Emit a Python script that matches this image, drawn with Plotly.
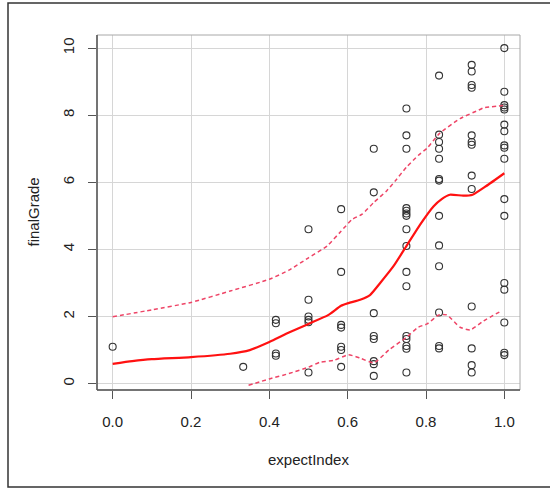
import plotly.graph_objects as go

# ---- data ----
col_x = [0.0, 1/3, 5/12, 0.5, 7/12, 2/3, 0.75, 5/6, 11/12, 1.0]
col_y = [
    [1.1],
    [0.5],
    [1.9, 1.8, 0.9, 0.83],
    [4.6, 2.5, 2.0, 1.9, 1.83, 0.33],
    [5.2, 3.33, 1.75, 1.67, 1.1, 1.0, 0.5],
    [7.0, 5.7, 2.1, 1.42, 1.33, 0.67, 0.58, 0.23],
    [8.2, 7.4, 7.0, 5.23, 5.15, 5.07, 5.0, 4.6, 4.1, 3.33, 2.9, 1.42, 1.33, 1.12, 1.04, 0.33],
    [9.18, 7.42, 7.2, 7.0, 6.7, 6.1, 6.05, 5.0, 4.12, 3.5, 2.12, 1.12, 1.05],
    [9.5, 9.3, 8.9, 8.82, 7.4, 7.2, 7.12, 6.2, 5.8, 2.3, 1.05, 0.55, 0.33],
    [10.0, 8.7, 8.3, 8.23, 8.17, 7.72, 7.52, 7.1, 7.03, 6.7, 5.5, 5.0, 3.0, 2.8, 1.82, 0.92, 0.85],
]

fit_x = [0.0, 0.05, 0.1, 0.2, 0.3, 0.35, 0.4, 0.45, 0.5, 0.55, 0.583, 0.602, 0.632, 0.657, 0.683,
         0.717, 0.75, 0.785, 0.819, 0.84, 0.861, 0.895, 0.919, 0.954, 1.0]
fit_y = [0.59, 0.67, 0.73, 0.79, 0.89, 1.0, 1.24, 1.52, 1.78, 2.04, 2.32, 2.4, 2.5, 2.64, 3.0,
         3.5, 4.1, 4.74, 5.28, 5.5, 5.63, 5.6, 5.63, 5.89, 6.27]

up_x = [0.0, 0.1, 0.2, 0.3, 0.4, 0.45, 0.5, 0.547, 0.583, 0.611, 0.637, 0.667, 0.7, 0.722,
        0.75, 0.78, 0.803, 0.834, 0.887, 0.938, 0.947, 1.0]
up_y = [1.99, 2.2, 2.42, 2.76, 3.11, 3.38, 3.75, 4.1, 4.54, 4.89, 5.05, 5.4, 5.75, 6.05,
        6.45, 6.8, 7.02, 7.45, 7.9, 8.17, 8.22, 8.29]

lo_x = [0.347, 0.4, 0.45, 0.5, 0.53, 0.564, 0.602, 0.632, 0.667, 0.705, 0.75, 0.78, 0.803,
        0.833, 0.853, 0.887, 0.913, 0.947, 0.993]
lo_y = [-0.05, 0.14, 0.3, 0.49, 0.64, 0.69, 0.86, 0.76, 0.62, 1.0, 1.38, 1.68, 1.78,
        2.05, 2.05, 1.68, 1.6, 1.87, 2.17]

x_ticks = [0.0, 0.2, 0.4, 0.6, 0.8, 1.0]
y_ticks = [0, 2, 4, 6, 8, 10]

px_, py_ = [], []
for cx, ys in zip(col_x, col_y):
    for v in ys:
        px_.append(cx)
        py_.append(v)

FONT = "Liberation Sans, Arial, Helvetica, sans-serif"
TXT = "#222222"

fig = go.Figure()
fig.add_trace(go.Scatter(x=px_, y=py_, mode="markers",
                         marker=dict(symbol="circle-open", size=7, color="#333333",
                                     line=dict(width=1.1, color="#333333")),
                         showlegend=False, hoverinfo="skip"))
fig.add_trace(go.Scatter(x=up_x, y=up_y, mode="lines",
                         line=dict(color="#EE4466", width=1.5, dash="4px,3px",
                                   shape="spline", smoothing=0.5),
                         showlegend=False, hoverinfo="skip"))
fig.add_trace(go.Scatter(x=lo_x, y=lo_y, mode="lines",
                         line=dict(color="#EE4466", width=1.5, dash="4px,3px",
                                   shape="spline", smoothing=0.5),
                         showlegend=False, hoverinfo="skip"))
fig.add_trace(go.Scatter(x=fit_x, y=fit_y, mode="lines",
                         line=dict(color="#FF1111", width=2.2, shape="spline", smoothing=0.5),
                         showlegend=False, hoverinfo="skip"))

fig.update_layout(
    width=550, height=488,
    margin=dict(l=97, r=30, t=35, b=98),
    paper_bgcolor="white", plot_bgcolor="white",
    font=dict(family=FONT, size=15, color=TXT),
    xaxis=dict(range=[-0.04, 1.04], tickvals=x_ticks, ticktext=[f"{v:.1f}" for v in x_ticks],
               showgrid=True, gridcolor="#d6d6d6", gridwidth=1, zeroline=False,
               showline=False, ticks="outside", ticklen=8, tickcolor="#555555", tickwidth=1,
               ticklabelstandoff=10, tickfont=dict(size=15, color=TXT)),
    yaxis=dict(range=[-0.19, 10.39], tickvals=y_ticks, ticktext=[str(v) for v in y_ticks],
               showgrid=True, gridcolor="#d6d6d6", gridwidth=1, zeroline=False,
               showline=False, ticks="outside", ticklen=8, tickcolor="#555555", tickwidth=1,
               tickangle=-90, ticklabelstandoff=8, tickfont=dict(size=15, color=TXT)),
    shapes=[
        dict(type="rect", xref="paper", yref="paper", x0=0, x1=1, y0=0, y1=1,
             line=dict(color="#a8a8a8", width=1)),
        dict(type="line", xref="paper", yref="paper", x0=0, x1=0, y0=0, y1=1,
             line=dict(color="#555555", width=1.5)),
        dict(type="line", xref="paper", yref="paper", x0=0, x1=1, y0=0, y1=0,
             line=dict(color="#555555", width=1.5)),
        dict(type="rect", xref="paper", yref="paper",
             x0=(8 - 97) / 423, x1=(556 - 97) / 423,
             y0=(390 - 487) / 355, y1=(390 - 3) / 355,
             line=dict(color="#333333", width=1.5)),
    ],
    annotations=[
        dict(text="expectIndex", xref="paper", yref="paper", x=0.5, y=(390 - 459) / 355,
             showarrow=False, xanchor="center", yanchor="middle",
             font=dict(size=15, color=TXT, family=FONT)),
        dict(text="finalGrade", xref="paper", yref="paper", x=(33 - 97) / 423, y=0.5,
             showarrow=False, xanchor="center", yanchor="middle", textangle=-90,
             font=dict(size=15, color=TXT, family=FONT)),
    ],
)

fig.write_html("out.html")
